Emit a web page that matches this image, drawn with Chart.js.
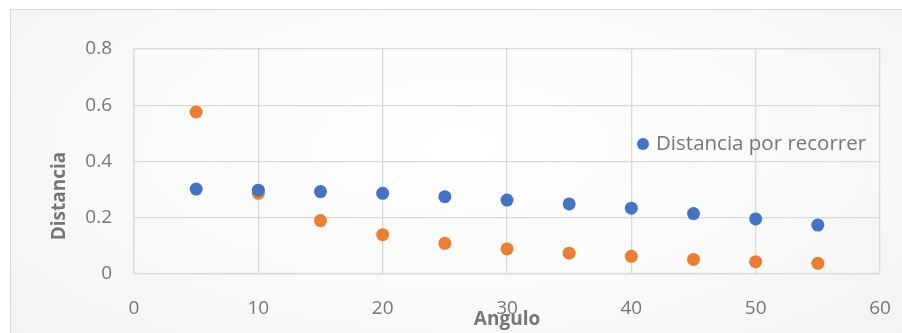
<!DOCTYPE html>
<html>
<head>
<meta charset="utf-8">
<script src="https://cdn.jsdelivr.net/npm/chart.js@4/dist/chart.umd.min.js"></script>
<style>
  html, body { margin: 0; padding: 0; background: #ffffff; }
  #wrap { position: relative; width: 902px; height: 333px; overflow: hidden; }
  #frame {
    position: absolute; left: 10px; top: 9px; width: 900px; height: 340px;
    border: 1px solid #d9d9d9;
    background: radial-gradient(ellipse at 50% 40%, #ffffff 0%, #f9f9f9 60%, #f2f2f2 100%);
  }
  canvas { position: absolute; left: 0; top: 0; }
</style>
</head>
<body>
<div id="wrap">
  <div id="frame"></div>
  <canvas id="c" width="902" height="333"></canvas>
</div>
<script>
// Angles (degrees) and measured distances
const angulos = [5, 10, 15, 20, 25, 30, 35, 40, 45, 50, 55];
const distanciaPorRecorrer = [0.302, 0.298, 0.293, 0.287, 0.275, 0.263, 0.249, 0.234, 0.215, 0.196, 0.174];
const distanciaRecorrida = [0.576, 0.287, 0.190, 0.140, 0.109, 0.089, 0.074, 0.063, 0.052, 0.044, 0.038];
const xTicks = [0, 10, 20, 30, 40, 50, 60];
const yTicks = [0, 0.2, 0.4, 0.6, 0.8];
const legendLabel = 'Distancia por recorrer';
const xTitle = 'Angulo';
const yTitle = 'Distancia';

const FONT = '"Open Sans", sans-serif';
const TEXT = '#767676';
const BLUE = '#4472C4';
const ORANGE = '#ED7D31';

const toPoints = (ys) => angulos.map((a, i) => ({ x: a, y: ys[i] }));

// Legend entry for the first series inside the plot, plus the vertical axis title
const annotations = {
  id: 'annotations',
  afterDatasetsDraw(chart) {
    const { ctx, chartArea } = chart;
    const cx = chartArea.right - 237;
    const cy = chartArea.top + 95;
    ctx.save();
    ctx.fillStyle = BLUE;
    ctx.beginPath();
    ctx.arc(cx, cy, 6, 0, Math.PI * 2);
    ctx.fill();
    ctx.fillStyle = TEXT;
    ctx.font = '20.5px ' + FONT;
    ctx.textBaseline = 'middle';
    ctx.textAlign = 'left';
    ctx.fillText(legendLabel, cx + 13, cy);

    // y axis title, rotated
    ctx.translate(chartArea.left - 74, chartArea.top + 147);
    ctx.rotate(-Math.PI / 2);
    ctx.font = 'bold 19px ' + FONT;
    ctx.textAlign = 'center';
    ctx.fillText(yTitle, 0, 0);
    ctx.restore();
  }
};

new Chart(document.getElementById('c'), {
  type: 'scatter',
  data: {
    datasets: [
      { label: legendLabel, data: toPoints(distanciaPorRecorrer), backgroundColor: BLUE, borderWidth: 0, pointRadius: 6.5, pointHoverRadius: 6.5 },
      { label: 'Distancia recorrida', data: toPoints(distanciaRecorrida), backgroundColor: ORANGE, borderWidth: 0, pointRadius: 6.5, pointHoverRadius: 6.5 }
    ]
  },
  options: {
    responsive: false,
    animation: false,
    layout: { padding: { top: 49, right: 22, bottom: 0, left: 0 } },
    plugins: { legend: { display: false }, tooltip: { enabled: false } },
    scales: {
      x: {
        type: 'linear', min: 0, max: 60,
        afterBuildTicks: (s) => { s.ticks = xTicks.map(v => ({ value: v })); },
        afterFit: (s) => { s.height = 59; s.paddingRight = 0; s.paddingLeft = 0; },
        grid: { color: '#d9d9d9', lineWidth: 1.3, drawTicks: false },
        border: { color: '#d9d9d9', width: 1.3 },
        ticks: { color: TEXT, font: { family: FONT, size: 19 }, padding: 23, maxRotation: 0 },
        title: { display: true, text: xTitle, color: TEXT, font: { family: FONT, size: 19, weight: 'bold' }, padding: { top: 0, bottom: 2 } }
      },
      y: {
        type: 'linear', min: 0, max: 0.8,
        afterBuildTicks: (s) => { s.ticks = yTicks.map(v => ({ value: v })); },
        afterFit: (s) => { s.width = 134; },
        grid: { color: '#d9d9d9', lineWidth: 1.3, drawTicks: false },
        border: { color: '#d9d9d9', width: 1.3 },
        ticks: { color: TEXT, font: { family: FONT, size: 19 }, padding: 22, callback: (v) => String(v) }
      }
    }
  },
  plugins: [annotations]
});
</script>
</body>
</html>
